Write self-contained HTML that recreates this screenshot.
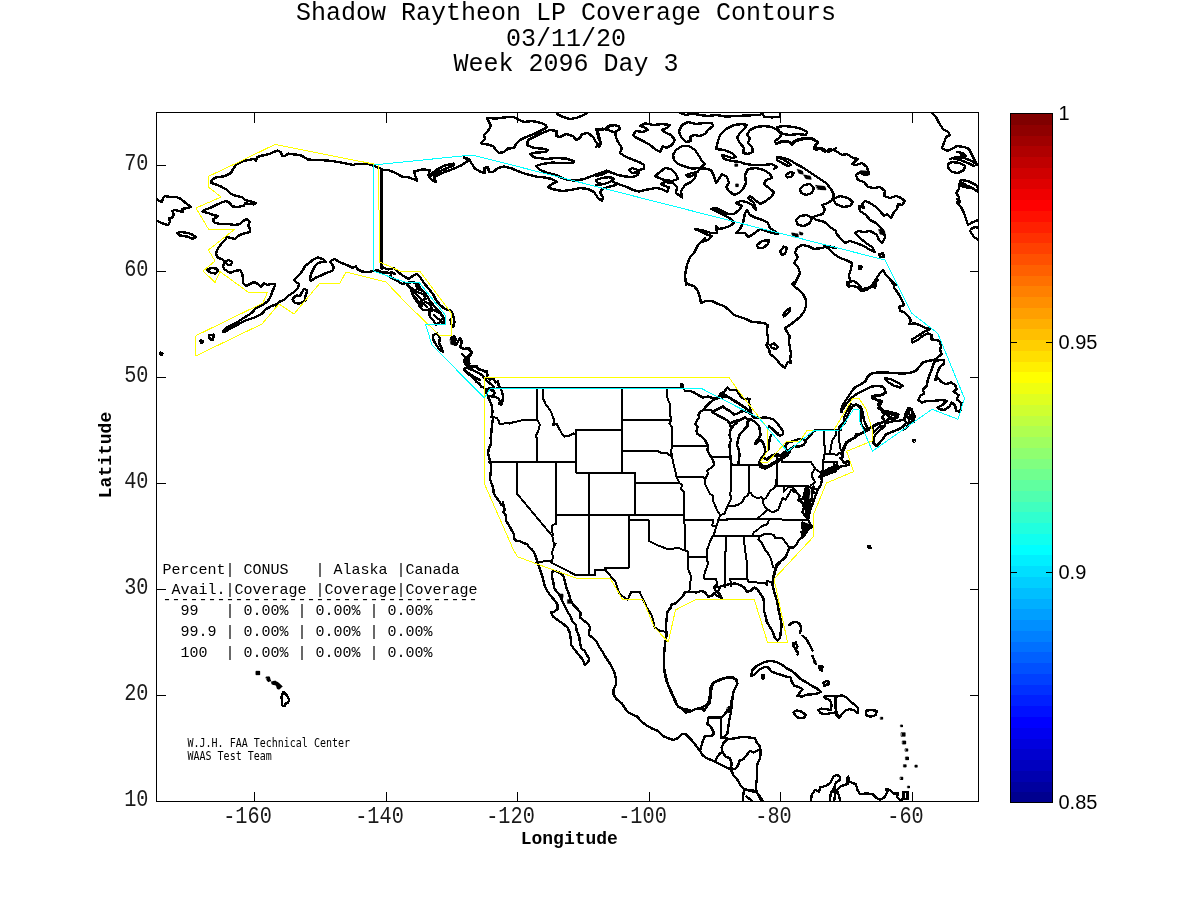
<!DOCTYPE html>
<html><head><meta charset="utf-8"><title>Shadow Raytheon LP Coverage Contours</title>
<style>
html,body{margin:0;padding:0;background:#fff;}
body{width:1200px;height:900px;overflow:hidden;position:relative;}
svg{position:absolute;left:0;top:0;display:block;}
.mono{font-family:"Liberation Mono","DejaVu Sans Mono",monospace;}
.sans{font-family:"Liberation Sans","DejaVu Sans",sans-serif;}
.title{font-size:25px;fill:#000;}
.tick{font-size:21px;fill:#1a1a1a;}
.axl{font-size:18px;font-weight:bold;fill:#000;}
.tbl{font-size:15px;fill:#000;white-space:pre;}
.cb{font-size:20px;fill:#000;}
.small{font-family:"DejaVu Sans Mono","Liberation Mono",monospace;font-size:10px;fill:#000;}
</style></head><body>
<svg width="1200" height="900" viewBox="0 0 1200 900">
<rect x="0" y="0" width="1200" height="900" fill="#fff"/>

<g class="mono title" text-anchor="middle">
<text x="566" y="20">Shadow Raytheon LP Coverage Contours</text>
<text x="566" y="45.5">03/11/20</text>
<text x="566" y="71">Week 2096 Day 3</text>
</g>
<defs><clipPath id="axclip"><rect x="156.5" y="112.5" width="822" height="689"/></clipPath></defs>
<g clip-path="url(#axclip)" fill="none" stroke-linejoin="round" stroke-linecap="round" shape-rendering="crispEdges">
<g stroke="#000" stroke-width="2.4">
<path d="M381.6,169.0 L374.0,166.0 L368.0,164.0 L356.0,164.0 L353.0,165.0 L344.0,163.0 L332.0,161.0 L320.0,160.0 L308.0,159.6 L304.0,157.0 L300.0,155.0 L294.0,154.4 L288.0,153.6 L285.0,156.0 L282.0,155.6 L281.0,152.0 L277.0,150.6 L273.0,152.4 L268.0,154.4 L262.0,155.6 L257.0,157.0 L256.0,161.0 L254.0,159.0 L248.0,160.0 L242.0,161.6 L237.0,164.0 L233.0,169.0 L231.0,173.0 L224.0,176.4 L216.0,177.4 L211.6,180.0 L211.0,183.0 L216.0,184.4 L222.0,187.0 L227.0,190.0 L231.0,194.0 L236.0,196.0 L242.0,197.0 L245.0,200.0 L251.0,201.4 L256.0,203.0 L254.0,204.4 L249.0,204.0 L245.0,203.0 L244.0,205.6 L238.0,207.0 L232.0,206.4 L230.0,203.0 L226.0,201.0 L222.0,202.4 L216.0,205.0 L210.0,208.0 L204.0,210.0 L202.4,211.4 L208.0,213.0 L213.0,215.0 L218.0,216.0 L216.0,218.0 L213.0,219.0 L214.0,222.4 L220.0,224.0 L228.0,224.0 L235.0,225.0 L240.0,224.0 L243.0,221.0 L247.0,219.0 L250.0,222.0 L248.0,225.0 L249.6,228.0 L250.0,232.0 L246.0,233.0 L242.0,234.0 L238.0,236.0 L235.0,239.0 L231.0,238.0 L227.0,237.0 L225.0,240.0 L222.0,243.0 L219.0,247.0 L217.0,250.0 L216.0,254.0 L218.0,258.0 L222.0,259.0 L225.0,262.0 L223.0,266.0 L224.0,269.0 L227.0,271.0 L230.0,273.0 L235.0,271.0 L240.0,270.0 L242.0,273.0 L243.0,278.0 L243.0,283.0 L246.0,286.0 L250.0,284.0 L254.0,282.0 L258.0,284.0 L261.0,287.0 L264.0,283.0 L267.0,285.0 L271.0,284.0 L275.4,284.0 L274.0,288.0 L272.0,292.0 L271.0,296.0 L268.0,301.0 L264.0,304.0 L260.0,306.0 L256.0,308.0"/>
<path d="M276.0,306.0 L279.0,302.0 L284.0,300.0 L288.0,296.0 L294.0,292.0 L298.0,288.0 L299.0,284.0 L296.0,282.0 L294.0,280.0 L297.0,277.0 L300.0,274.0 L303.0,270.0 L305.0,266.0 L309.0,263.0 L314.0,259.0 L318.0,257.6 L323.0,259.0 L326.0,262.0 L322.0,262.0 L318.0,263.0 L315.0,266.0 L313.0,270.0 L311.0,274.0 L310.0,279.0 L311.0,281.0 L315.0,278.0 L320.0,276.0 L326.0,273.0 L332.0,271.0 L334.0,268.0 L332.0,264.0 L330.0,262.0 L332.0,260.0 L335.0,259.0 L339.0,262.0 L344.0,264.0 L349.0,266.0 L353.0,268.0 L356.0,266.0 L357.0,269.0 L362.0,271.6 L368.0,272.0 L374.0,271.0 L378.0,270.0 L382.0,272.4 L388.0,273.0 L392.0,272.4 L395.0,274.0"/>
<path d="M226.0,261.0 L229.0,260.0 L232.0,262.0 L231.0,265.0 L228.0,265.0 L226.0,263.0Z"/>
<path d="M177.0,233.0 L181.0,232.0 L188.0,233.0 L193.0,235.0 L196.0,237.0 L192.0,239.0 L189.0,237.0 L184.0,236.0 L179.0,235.4Z"/>
<path d="M207.0,270.0 L211.0,268.0 L217.0,268.6 L218.0,271.0 L215.0,273.6 L210.0,272.4Z"/>
<path d="M156.0,198.0 L159.0,201.0 L162.0,202.0 L163.0,198.0 L165.0,196.0 L170.0,197.0 L176.0,197.0 L181.0,199.0 L185.0,202.4 L189.0,205.6 L191.0,207.0 L187.0,208.0 L182.0,209.0 L183.0,212.0 L179.0,211.0 L175.0,210.0 L172.0,211.0 L174.0,214.0 L172.0,218.0 L169.0,218.0 L170.0,222.0 L168.0,225.0 L164.0,224.0 L159.0,222.0 L156.0,220.0"/>
<path d="M381.6,169.0 L381.6,269.0"/>
<path d="M256.0,308.0 L252.0,312.6 L247.0,316.0 L242.0,319.0 L236.0,323.0 L231.0,325.6 L227.0,327.6 L224.0,330.0 L223.0,332.0 L226.0,331.4 L230.0,328.6 L235.0,326.2 L240.0,323.4 L246.0,320.4 L252.0,318.4 L257.0,316.4 L262.0,313.6 L266.0,309.0 L271.0,306.4 L278.0,303.6"/>
<path d="M209.0,335.0 L214.0,334.6 L213.0,340.0 L209.6,339.0Z"/>
<path d="M200.4,340.4 L202.8,340.8 L202.4,342.8 L200.8,342.4Z"/>
<path d="M160.0,352.6 L162.4,353.0 L162.0,355.0 L160.4,354.6Z"/>
<path d="M304.0,289.0 L307.0,290.0 L306.4,294.0 L305.0,297.0 L305.6,300.0 L303.0,302.0 L299.0,303.6 L295.0,303.0 L292.6,300.0 L294.0,297.0 L297.0,295.6 L300.0,296.0 L301.6,293.0Z"/>
<path d="M381.6,194.0 L381.6,267.0 L388.0,269.4 L394.0,268.0 L398.0,272.0 L404.0,276.4 L409.0,279.0 L413.0,275.6 L417.0,274.0 L420.0,277.0 L424.0,283.0 L428.4,288.4 L433.0,294.0 L436.0,300.0 L440.0,305.0 L445.0,309.0 L451.0,310.6 L453.4,316.0 L454.4,322.0 L453.4,327.0 L451.4,324.4 L450.4,319.6"/>
<path d="M376.0,270.0 L382.0,273.0 L387.0,272.4 L391.6,273.6 L390.0,277.0 L396.0,280.0 L402.0,284.0 L406.0,283.0 L413.0,282.0 L419.0,285.0 L421.0,290.0 L417.0,289.0 L413.0,292.0 L410.0,288.0 L406.0,283.0"/>
<path d="M412.0,294.0 L417.0,292.0 L423.0,294.0 L426.0,299.0 L422.0,300.0 L419.0,304.0 L415.0,299.0Z"/>
<path d="M419.0,306.0 L425.0,302.0 L430.0,304.0 L432.0,309.0 L427.0,310.0 L423.0,310.0Z"/>
<path d="M429.0,312.0 L434.0,310.0 L440.0,313.0 L444.0,318.0 L445.0,323.0 L440.0,322.0 L436.0,325.0 L433.0,320.0 L430.0,317.0Z"/>
<path d="M416.0,286.0 L419.0,289.0 L423.0,291.0 L427.0,296.0 L430.0,301.0 L434.0,306.0 L438.0,310.0 L442.0,315.0"/>
<path d="M433.0,335.0 L437.0,333.6 L440.0,338.0 L439.0,343.0 L442.0,349.0 L443.0,352.0 L439.0,349.0 L435.0,343.0 L433.0,339.0Z"/>
<path d="M451.0,338.0 L454.0,336.0 L456.0,340.0 L453.0,344.0 L456.0,345.0 L460.0,338.0 L462.0,342.0 L460.0,347.0 L464.0,349.0 L469.0,348.0 L472.0,353.0 L469.0,357.0 L465.0,360.0 L468.0,363.0 L470.0,367.0 L474.0,366.0 L478.0,368.0 L483.0,371.0 L487.0,372.0 L487.0,377.0 L490.0,380.0"/>
<path d="M464.0,370.0 L470.0,374.0 L476.0,378.0 L480.0,380.0"/>
<path d="M381.6,170.0 L388.0,170.0 L396.0,173.0 L402.0,176.6 L409.0,177.4 L417.0,180.6 L415.0,175.0 L414.0,171.4 L422.0,169.4 L430.0,170.0 L428.4,175.0 L431.0,179.4 L436.0,182.0 L434.0,177.0 L442.0,173.0 L452.0,169.4 L462.0,165.0 L468.4,160.6 L464.0,157.4 L469.0,159.0 L472.0,164.0 L475.0,168.6 L481.0,172.0 L485.0,173.0 L484.0,168.0 L488.0,167.0 L489.0,172.0 L493.0,172.0 L498.0,168.0 L504.0,166.6 L512.0,168.6 L520.0,172.0 L528.0,174.6 L536.0,176.6 L544.0,177.4 L552.0,179.0 L557.0,182.0 L552.0,184.0 L548.0,187.0 L552.0,189.0 L562.0,191.0 L571.0,190.0 L580.0,188.0 L588.0,189.0 L594.0,192.0 L598.0,198.0 L602.0,201.0 L603.0,197.0 L600.0,193.0 L602.0,189.0 L608.0,187.0 L616.0,185.0"/>
<path d="M429.0,176.0 L436.0,170.0 L445.0,165.4 L454.0,163.6 L453.6,165.6 L446.0,168.6 L438.0,172.0 L432.0,175.4Z"/>
<path d="M487.0,118.0 L496.0,118.6 L504.0,117.4 L514.0,117.0 L518.0,119.4 L524.0,122.0 L532.0,121.0 L540.0,122.6 L546.0,125.0 L547.0,127.4 L542.0,130.0 L534.0,134.0 L526.0,137.0 L520.0,140.0 L516.0,144.0 L514.0,148.0 L508.0,148.6 L504.0,152.0 L499.0,153.0 L496.0,150.0 L493.0,146.0 L488.0,144.6 L481.0,143.4 L485.0,139.0 L484.0,135.0 L488.0,131.0 L491.0,126.0 L489.0,122.0Z"/>
<path d="M616.0,133.0 L608.0,130.0 L602.0,128.6 L597.0,131.0 L598.0,137.0 L601.0,143.0 L599.0,147.0 L596.0,142.0 L593.0,137.0 L588.0,133.0 L582.0,134.0 L580.0,138.0 L576.0,140.0 L573.0,136.0 L566.0,134.0 L560.0,137.0 L556.0,136.0 L557.0,131.0 L550.0,130.0 L542.0,133.0 L534.0,137.0 L528.0,140.0 L527.0,145.0 L534.0,148.0 L542.0,148.6 L548.0,150.0 L546.0,152.0 L536.0,152.6 L530.0,154.0 L534.0,157.4 L546.0,159.0 L556.0,158.0 L566.0,158.6 L574.0,161.0 L573.0,163.0 L564.0,163.0 L552.0,162.6 L542.0,164.0 L536.0,166.0 L540.0,170.0 L548.0,173.0 L556.0,175.0 L562.0,178.0 L568.0,180.0 L576.0,180.6 L584.0,179.0 L592.0,176.0 L600.0,173.0 L607.0,170.6 L612.0,173.0 L616.0,174.0"/>
<path d="M596.0,180.0 L602.0,178.0 L611.0,177.0 L614.0,179.4 L610.0,182.0 L604.0,184.0 L598.0,183.4Z"/>
<path d="M557.0,114.0 L562.0,116.6 L570.0,119.0 L576.0,118.0 L584.0,115.0 L588.0,112.4"/>
<path d="M616.0,125.0 L610.0,126.0 L606.0,129.0"/>
<path d="M596.0,147.0 L600.0,143.0 L599.0,135.0 L596.0,129.0 L602.0,130.0 L607.0,128.0 L608.0,126.0 L613.0,125.0 L619.0,126.0 L620.0,129.0 L615.0,132.0 L616.0,137.0 L618.0,142.0 L622.0,148.0 L620.0,153.0 L626.0,157.0 L634.0,160.0 L641.0,163.0 L644.0,165.0 L644.0,169.0 L638.0,170.0 L632.0,168.0 L629.0,170.0 L632.0,173.0 L639.0,172.0 L638.0,175.0 L633.0,177.0 L626.0,176.6 L618.0,175.0 L612.0,173.0 L608.0,171.0 L604.0,174.0 L596.0,176.0"/>
<path d="M596.0,180.0 L602.0,178.0 L609.0,177.0 L613.0,179.0 L610.0,182.0 L604.0,184.0 L596.0,185.0"/>
<path d="M633.0,135.0 L636.0,131.0 L643.0,132.0 L648.0,130.0 L644.0,127.0 L640.0,126.0 L645.0,123.4 L654.0,125.0 L662.0,124.0 L670.0,125.0 L667.0,128.0 L662.0,130.0 L666.0,133.0 L671.0,135.0 L675.0,140.0 L672.0,145.0 L666.0,148.0 L663.0,146.0 L660.0,152.0 L655.0,149.0 L650.0,145.0 L645.0,142.0 L639.0,139.0 L635.0,137.0Z"/>
<path d="M679.0,131.0 L682.0,125.0 L688.0,122.0 L696.0,124.0 L704.0,123.0 L712.0,123.0 L713.0,126.0 L708.0,130.0 L705.0,134.0 L700.0,136.0 L694.0,135.0 L690.0,137.0 L691.0,141.0 L686.0,142.0 L682.0,138.0 L680.0,135.0Z"/>
<path d="M673.0,155.0 L676.0,150.0 L682.0,146.0 L689.0,146.0 L695.0,150.0 L699.0,156.0 L702.0,161.0 L705.0,164.0 L700.0,168.0 L692.0,168.6 L685.0,166.6 L678.0,164.0 L674.0,160.0Z"/>
<path d="M655.0,176.0 L660.0,172.0 L665.0,168.0 L671.0,169.0 L676.0,174.0 L678.0,179.0 L672.0,181.0 L664.0,180.0 L659.0,178.0Z"/>
<path d="M613.0,182.0 L618.0,184.0 L626.0,186.6 L633.0,190.0 L639.0,191.4 L648.0,189.4 L656.0,188.0 L662.0,189.0 L667.0,192.0 L669.0,187.4 L665.0,186.0 L661.0,184.0 L665.0,182.0 L673.0,183.0 L677.0,187.0 L676.0,193.0 L682.0,197.4 L681.0,191.0 L685.0,185.0 L691.0,182.0 L695.0,178.0 L696.0,174.0 L689.0,177.0 L686.0,175.4 L692.0,173.0 L698.0,172.0 L699.0,169.0 L705.0,168.6 L711.0,170.0 L714.0,176.0 L716.0,183.0 L719.0,179.0 L722.0,174.0 L727.0,177.0 L729.0,183.0 L726.0,187.0 L729.0,191.0 L734.0,195.0 L739.0,193.0 L743.0,189.0 L746.0,183.0 L745.0,175.0 L748.0,169.0 L756.0,168.0 L764.0,170.0 L770.0,174.0 L772.0,178.0 L766.0,180.0 L764.0,184.0 L770.0,189.0 L774.0,192.0 L772.0,196.0 L766.0,201.0 L760.0,204.0 L754.0,199.0 L750.0,196.0 L748.0,198.0 L754.0,203.0 L756.0,210.0 L752.0,205.0 L747.0,202.0 L741.0,201.0 L736.0,203.0 L742.0,206.0 L739.0,210.0 L734.0,214.0 L728.0,214.0 L722.0,211.0 L716.0,208.0 L711.0,209.0 L716.0,211.0 L724.0,215.0 L731.0,219.0 L734.0,223.0 L730.0,226.0 L724.0,228.0 L719.0,229.0 L716.0,226.0 L717.0,233.0 L711.0,233.0 L705.0,231.0 L700.0,230.0 L695.0,229.0 L702.0,232.0 L708.0,235.0 L712.0,236.0 L708.0,240.0 L701.0,242.0 L705.0,238.0 L698.0,245.0 L694.0,253.0 L690.0,257.0 L687.0,265.0 L685.0,275.0 L686.0,285.0"/>
<path d="M736.0,233.0 L740.0,229.0 L743.0,223.0 L745.0,213.0 L747.0,210.0 L750.0,215.0 L756.0,218.0 L763.0,220.0 L768.0,223.0 L770.0,228.0 L776.0,232.0 L778.0,234.0 L772.0,233.0 L766.0,231.0 L760.0,229.0 L756.0,232.0 L752.0,235.0 L748.0,237.0 L745.0,233.0 L740.0,233.0Z"/>
<path d="M757.0,245.0 L762.0,241.0 L769.0,240.0 L768.0,244.0 L763.0,248.0 L758.0,248.0Z"/>
<path d="M780.0,251.0 L784.0,246.6 L787.0,248.0 L785.0,254.0 L782.0,255.0Z"/>
<path d="M777.0,157.0 L784.0,158.0 L790.0,160.0 L796.0,164.0 L802.0,167.0 L808.0,171.0 L814.0,175.0 L820.0,179.0 L826.0,183.0 L831.0,189.0 L834.0,195.0 L832.0,200.0 L828.0,203.0 L822.0,205.0 L825.0,209.0 L823.0,214.0 L818.0,215.4 L813.0,217.0 L816.0,220.0 L822.0,221.0 L826.0,223.0 L830.0,227.0 L836.0,231.0"/>
<path d="M777.0,157.0 L783.0,159.4 L788.0,162.4 L791.0,165.0 L788.0,166.0 L782.0,163.0 L777.0,160.0Z"/>
<path d="M800.0,189.0 L804.0,185.0 L810.0,184.0 L814.0,188.0 L812.0,193.0 L806.0,195.0 L801.0,193.0Z"/>
<path d="M786.0,175.0 L790.0,172.0 L794.0,173.0 L791.0,177.0 L787.0,177.4Z"/>
<path d="M796.0,220.0 L800.0,216.0 L807.0,215.0 L812.0,218.0 L810.0,223.0 L804.0,226.0 L798.0,225.0Z"/>
<path d="M836.0,248.0 L828.0,246.0 L822.0,248.0 L814.0,249.0 L808.0,246.0 L802.0,245.0 L797.0,248.0 L795.0,253.0 L798.0,257.0 L794.0,263.0 L798.0,267.0 L800.0,273.0 L797.0,279.0 L794.0,285.0"/>
<path d="M716.0,149.0 L718.0,141.0 L720.0,135.0 L726.0,129.0 L734.0,125.0 L742.0,124.0 L747.0,125.0 L744.0,129.0 L740.0,133.0 L737.0,138.0 L740.0,143.0 L744.0,148.0 L743.0,153.0 L748.0,154.0 L753.0,152.0 L752.0,147.0 L748.0,143.0 L750.0,138.0 L747.0,135.0 L750.0,130.0 L756.0,127.0 L764.0,126.0 L772.0,127.0 L777.0,130.0 L782.0,134.0 L779.0,138.0 L775.0,141.0 L776.0,144.0 L782.0,142.0 L788.0,141.0 L791.0,144.0 L796.0,140.0 L804.0,138.0 L812.0,139.0 L818.0,142.0 L814.0,147.0 L816.0,150.0 L822.0,148.0 L828.0,152.0 L833.0,150.0 L836.0,148.0"/>
<path d="M777.0,127.0 L784.0,126.0 L794.0,127.0 L802.0,129.0 L807.0,132.0 L806.0,135.0 L798.0,134.0 L790.0,135.0 L783.0,134.0 L779.0,131.0Z"/>
<path d="M716.0,149.0 L724.0,150.0 L732.0,153.0 L736.0,157.0 L732.0,158.0 L726.0,156.0 L722.0,155.0 L724.0,159.0 L732.0,161.0 L740.0,162.0 L745.0,164.0 L754.0,165.0 L764.0,165.0 L772.0,164.0 L777.0,167.0 L774.0,169.0"/>
<path d="M680.0,113.0 L686.0,115.0 L692.0,113.4 L700.0,115.0 L708.0,116.0 L716.0,115.0 L726.0,116.6 L736.0,116.0 L748.0,115.4 L760.0,115.0 L762.0,113.0"/>
<path d="M762.0,113.0 L764.0,116.6 L772.0,117.4 L780.0,116.6 L780.0,113.0"/>
<path d="M836.0,231.0 L836.0,233.0 L840.0,238.0 L845.0,243.0 L850.0,241.0 L856.0,243.0 L864.0,246.0 L870.0,250.0 L875.0,252.0 L872.0,247.0 L866.0,243.0 L860.0,238.0 L855.0,233.0 L858.0,231.0 L864.0,232.0 L870.0,231.0 L874.0,233.0 L877.0,235.0 L879.0,240.0 L882.0,243.0 L885.0,238.0 L884.0,232.0 L880.0,227.0 L876.0,223.0 L870.0,220.0 L866.0,215.0 L860.0,211.0 L859.0,206.0 L864.0,208.0 L862.0,204.0 L865.0,201.0 L870.0,203.0 L876.0,207.0 L880.0,211.0 L884.0,216.0 L887.0,214.0 L891.0,218.0 L894.0,212.0 L897.0,209.0 L898.0,204.0 L902.0,205.0 L905.0,201.0 L901.0,198.0 L896.0,196.0 L890.0,198.0 L884.0,196.0 L885.0,191.0 L880.0,187.0 L874.0,188.0 L868.0,187.0 L864.0,182.0 L858.0,180.0 L856.0,175.0 L860.0,172.0 L864.0,175.0 L869.0,174.0 L867.0,167.0 L862.0,163.0 L856.0,165.0 L852.0,164.0 L858.0,159.0 L853.0,158.0 L847.0,154.0 L842.0,155.0 L836.0,151.0 L833.0,150.0"/>
<path d="M776.0,144.0 L782.0,141.0 L790.0,142.0 L792.0,145.0 L796.0,141.0 L804.0,139.0 L812.0,138.0 L818.0,142.0 L814.0,149.0 L819.0,148.0 L825.0,152.0 L830.0,149.0 L836.0,151.0"/>
<path d="M833.0,199.0 L840.0,196.0 L848.0,198.0 L853.0,202.0 L850.0,206.0 L843.0,207.0 L836.0,204.0Z"/>
<path d="M836.0,248.0 L824.0,246.0 L829.0,249.0 L834.0,254.0 L840.0,258.0 L846.0,260.0 L852.0,263.0 L851.0,269.0 L849.0,275.0 L850.0,281.0 L848.0,285.0"/>
<path d="M872.0,285.0 L876.0,279.0 L880.0,273.0 L883.0,270.0 L886.0,275.0 L890.0,279.0 L896.0,285.0"/>
<path d="M879.0,254.0 L883.0,253.4 L884.0,256.6 L880.0,257.0Z"/>
<path d="M859.0,266.0 L861.6,266.6 L860.8,269.0 L858.8,268.4Z"/>
<path d="M932.0,113.0 L936.0,117.0 L939.0,123.0 L943.0,129.0 L948.0,132.0 L950.0,135.0 L946.0,137.0 L944.0,143.0 L942.0,148.0 L947.0,151.0 L952.0,149.0 L957.0,146.0 L964.0,147.0 L969.0,149.0 L972.0,155.0 L976.0,163.0 L978.4,165.0"/>
<path d="M950.0,159.0 L956.0,157.0 L964.0,158.0 L972.0,161.0 L976.0,164.0"/>
<path d="M948.0,164.0 L952.0,162.0 L960.0,163.0 L965.0,166.0 L964.0,170.0 L958.0,173.0 L952.0,172.0 L948.4,168.0Z"/>
<path d="M961.0,180.0 L968.0,181.0 L976.0,185.0 L978.4,189.0"/>
<path d="M962.0,184.0 L968.0,186.0 L974.0,189.0 L978.0,192.0"/>
<path d="M960.0,181.0 L959.0,189.0 L956.0,193.0 L959.0,197.0 L957.0,203.0 L961.0,207.0 L964.0,213.0 L966.0,219.0 L968.0,225.0 L973.0,222.0 L978.4,220.0"/>
<path d="M971.0,229.0 L975.0,227.0 L978.4,228.0"/>
<path d="M970.0,231.0 L974.0,237.0 L978.4,240.0"/>
<path d="M685.0,280.0 L687.0,284.0 L694.0,286.0 L698.0,291.0 L700.0,298.0 L701.0,303.0 L706.0,301.0 L712.0,301.0 L718.0,304.0 L724.0,306.0 L729.0,310.0 L734.0,315.0 L740.0,317.0 L746.0,319.0 L752.0,322.0 L758.0,322.4 L764.0,323.0 L767.6,325.0 L767.0,332.0 L768.0,338.0 L767.6,344.0 L766.0,345.0 L769.0,349.0 L770.0,354.0 L774.0,357.0 L777.0,360.0 L780.0,364.0 L785.0,368.0 L786.0,365.0 L788.0,362.0 L791.0,363.0 L790.0,359.0 L791.0,354.0 L790.0,348.0 L789.0,342.0 L789.6,336.0 L787.0,332.0 L785.0,328.0 L790.0,325.0 L795.0,321.0 L800.0,317.0 L804.0,312.0 L806.0,306.0 L806.0,300.0 L803.0,294.0 L799.0,290.0 L795.0,287.0 L792.0,284.0 L796.0,281.0 L797.0,280.0"/>
<path d="M783.0,315.0 L786.0,311.0 L790.0,308.0 L790.0,311.0 L787.0,314.0 L784.0,316.4Z"/>
<path d="M770.0,345.0 L774.0,343.6 L778.0,347.0 L776.0,349.0 L772.0,348.0Z"/>
<path d="M847.0,285.0 L848.0,282.0 L854.0,281.0 L858.0,284.0 L862.0,289.0 L868.0,288.0 L876.0,284.0"/>
<path d="M690.0,391.0 L694.0,392.5 L698.0,395.0 L703.0,397.5 L708.0,396.5 L714.0,398.5 L719.0,398.0 L714.0,399.5 L710.0,402.5 L706.0,406.5 L703.0,410.0 L707.0,410.2 L711.0,410.0 L713.0,412.8 L715.0,410.5 L719.0,408.5 L723.0,406.5 L726.0,409.0 L730.0,411.0 L734.0,414.5 L737.0,414.0 L741.0,411.5 L744.5,411.2 L748.0,412.2 L751.0,414.2 L754.0,417.5 L760.0,417.8 L766.0,417.5 L770.0,418.2 L774.0,419.8 L777.0,423.0 L780.0,427.0 L783.0,431.0 L783.2,434.0 L780.0,435.8 L777.0,434.0 L774.0,431.0 L771.0,428.0 L769.0,426.5"/>
<path d="M719.0,398.0 L720.0,394.0 L724.0,392.0 L727.5,387.5 L730.0,389.8 L737.0,390.0 L739.0,394.0 L742.0,398.0 L746.0,399.5 L747.5,398.5 L749.5,399.0 L748.5,402.5 L750.0,406.0 L750.5,411.0 L752.0,415.0"/>
<path d="M724.5,394.5 L732.0,399.0 L740.0,404.0 L747.0,409.0"/>
<path d="M727.0,396.5 L735.0,401.5 L743.0,406.5 L750.0,411.5"/>
<path d="M720.0,394.0 L722.0,395.0 L724.5,394.5 L725.0,396.5 L722.0,397.5"/>
<path d="M703.0,410.0 L700.0,412.0 L698.5,415.0 L699.0,418.0 L697.0,420.0 L695.5,424.0 L697.5,427.0 L696.5,431.0 L697.5,434.0 L701.0,436.0 L705.0,440.0 L707.0,444.0 L708.0,446.0 L707.5,450.0 L709.0,454.0 L712.0,458.0 L713.5,462.0 L714.0,465.0"/>
<path d="M713.0,412.5 L717.0,415.0 L723.0,418.0 L727.5,420.5 L730.0,424.0 L731.0,428.0 L730.0,432.0 L729.5,435.0 L731.0,440.0 L729.5,445.0 L730.0,451.0 L730.5,457.0 L731.0,463.0 L732.0,465.0"/>
<path d="M730.0,424.0 L734.0,421.0 L738.0,420.5 L737.0,423.0 L734.0,425.0 L732.0,428.0"/>
<path d="M734.0,422.0 L738.0,421.0 L742.0,419.0 L745.0,417.5 L747.5,419.0 L750.5,419.0 L747.5,422.0 L748.0,426.0 L744.5,429.0 L742.0,432.0 L739.5,435.0 L738.0,440.0 L737.0,445.0 L739.0,450.0 L739.5,455.0 L739.0,460.0 L738.0,465.0"/>
<path d="M744.5,429.0 L746.5,427.0 L747.5,425.0"/>
<path d="M751.0,419.5 L755.0,422.0 L759.0,426.0 L760.0,431.0 L760.5,435.0 L759.0,438.0 L756.0,441.0 L755.0,444.0 L757.0,443.0 L760.0,440.0 L762.0,441.0 L764.0,445.0 L765.0,449.0 L765.5,452.0 L764.0,455.0 L762.0,458.0 L760.0,461.0 L760.5,463.5"/>
<path d="M770.0,427.0 L774.0,430.2 L778.0,433.5"/>
<path d="M770.5,427.8 L774.5,431.0 L778.5,434.2"/>
<path d="M771.0,435.0 L769.5,440.0 L769.0,445.0 L768.5,449.5"/>
<path d="M782.0,458.0 L786.0,454.0 L787.5,451.5 L785.0,447.0 L787.0,443.0 L793.0,441.2 L799.0,439.0 L803.5,438.8 L805.8,441.5 L803.5,445.0 L798.5,446.8 L794.0,446.2 L790.5,449.0 L787.5,451.5"/>
<path d="M805.8,440.5 L810.0,435.5 L814.0,431.2 L816.5,430.0 L840.5,430.0"/>
<path d="M868.5,430.0 L865.0,431.8 L860.0,434.0 L856.2,434.0 L855.0,437.5 L850.0,440.5 L846.5,443.0 L844.5,448.0 L842.5,453.0"/>
<path d="M868.5,430.0 L866.0,425.0 L864.0,420.0 L863.0,415.0 L862.0,409.0 L860.0,406.0 L856.0,404.5 L853.0,406.0 L850.0,410.0 L848.0,415.0 L846.0,420.0 L844.0,424.0 L840.0,427.0 L839.0,430.0"/>
<path d="M842.0,452.7 L841.3,454.3 L843.3,455.0 L842.7,457.3 L840.3,458.0 L842.0,460.0 L844.0,462.7 L846.0,464.0 L846.7,460.7 L848.7,460.7 L848.7,464.7 L846.0,465.7 L842.7,465.7 L840.7,466.7 L838.0,468.7 L836.3,469.3 L836.0,465.7 L834.7,465.3 L833.3,466.7 L830.0,468.0 L826.7,470.0 L823.3,472.7 L821.3,474.3 L820.0,476.3 L822.0,480.0 L820.8,485.3 L818.7,488.0 L816.7,492.0 L815.9,493.7 L813.7,492.7 L812.7,489.3 L813.3,486.7"/>
<path d="M819.3,477.3 L823.3,476.0 L828.0,474.0 L832.0,472.7 L835.3,471.3 L836.3,469.7 L833.3,470.3 L829.3,472.0 L825.3,473.7 L822.0,475.3Z"/>
<path d="M846.8,282.5 L848.5,286.7 L852.7,285.8 L857.7,287.5 L861.0,290.8 L866.8,290.0 L871.0,286.7 L875.2,287.5 L876.0,282.5 L877.7,280.0"/>
<path d="M890.2,280.0 L893.5,284.2 L894.3,288.3 L897.7,292.5 L900.2,296.7 L902.7,301.7 L904.3,305.0 L899.3,306.7 L900.2,310.8 L904.3,312.5 L907.7,315.8 L911.0,320.0 L909.3,324.2 L914.3,323.3 L919.3,325.0 L924.3,327.5 L930.2,329.2 L924.3,331.7 L919.3,335.0 L915.2,337.5 L911.8,339.2 L912.7,342.5 L917.7,340.0 L922.7,335.8 L927.7,333.3 L931.8,335.0 L931.0,339.2 L935.2,340.0 L939.3,340.8 L941.0,345.0 L940.2,350.0 L941.8,354.2 L938.5,356.7 L934.3,360.0 L928.5,360.8 L922.7,362.5 L919.3,366.7 L916.0,370.8 L909.3,373.0 L902.7,373.7 L894.3,373.0 L886.0,372.5 L877.7,372.5 L871.0,373.7 L867.7,376.7 L865.2,381.7 L861.0,384.2 L856.0,386.7 L852.7,390.0 L849.3,395.0 L846.0,400.0 L842.7,405.0 L841.0,410.0 L841.8,411.7"/>
<path d="M841.0,411.7 L846.0,404.2 L851.8,397.5 L857.7,393.3 L864.3,390.0 L871.0,386.7 L877.7,385.8 L882.7,386.7 L885.2,390.0 L884.3,393.3 L879.3,395.8 L873.5,396.7 L871.8,398.3 L876.0,399.2 L879.3,402.5 L877.7,405.0 L881.0,408.3 L884.3,411.7 L887.7,413.3 L892.7,412.5 L896.8,414.2 L897.7,417.5 L894.3,419.2 L889.3,418.3 L886.0,421.7 L884.3,426.7 L881.0,429.2"/>
<path d="M885.2,378.3 L891.0,379.2 L897.7,382.5 L902.7,385.8 L900.2,387.5 L894.3,385.8 L888.5,382.5 L885.7,380.0Z"/>
<path d="M934.3,361.7 L939.3,360.0 L943.5,360.0 L944.3,363.3 L940.2,366.7 L937.7,371.7 L936.0,377.5 L935.2,380.0 L938.5,378.3 L941.0,381.7 L946.0,384.2 L951.0,382.5 L955.2,385.0 L956.8,389.2 L953.5,391.7 L958.5,395.0 L956.8,399.2 L961.8,403.3 L960.2,411.7 L956.0,410.8 L955.2,405.8 L951.8,402.5 L949.3,406.7 L944.3,410.0 L939.3,409.2 L937.7,407.5 L942.7,405.0 L946.8,400.8 L941.0,400.0 L934.3,400.8 L927.7,400.8 L921.8,402.5 L918.5,400.0 L920.2,395.8 L924.3,393.3 L922.7,390.0 L926.8,385.8 L927.7,380.0 L930.2,373.3 L932.7,366.7Z"/>
<path d="M904.3,418.3 L907.7,413.3 L910.2,408.3 L912.7,411.7 L911.8,418.3 L914.3,421.7 L909.3,423.3 L906.0,428.3 L902.7,430.0"/>
<path d="M884.8,390.0 L886.0,392.5 L882.2,395.0 L877.2,395.0 L872.2,396.2 L873.5,398.8 L878.5,400.0 L882.2,401.2 L879.8,405.0 L878.5,408.1 L881.6,410.6 L884.1,414.4 L882.2,417.5 L884.8,420.6 L882.2,423.1 L878.5,423.8 L874.8,425.6 L871.6,426.9"/>
<path d="M884.8,411.2 L889.8,411.9 L894.8,413.1 L898.5,414.4 L897.2,416.9 L892.9,418.1 L888.5,416.2 L885.4,413.8Z"/>
<path d="M889.1,413.8 L893.5,415.0 L896.6,415.6"/>
<path d="M871.6,426.9 L877.2,423.8 L883.5,421.9 L888.5,422.5 L893.5,421.2 L899.8,420.6 L904.8,419.4 L906.0,423.1 L903.5,426.2 L898.5,429.4 L892.2,431.9 L886.0,434.4 L883.5,438.1 L879.8,442.5 L876.6,446.2 L873.5,443.1 L873.5,438.1 L876.0,433.8 L879.8,430.0 L883.5,426.9 L881.0,425.6 L877.2,428.8 L873.5,432.5 L872.9,427.5"/>
<path d="M871.6,426.9 L867.2,430.0 L862.2,433.1 L857.2,435.6 L854.8,437.5 L849.8,440.0 L846.0,442.5 L844.1,446.2 L842.9,450.0"/>
<path d="M904.1,418.8 L906.0,412.5 L908.5,408.1 L911.6,408.8 L912.9,412.5 L914.8,416.2 L913.5,420.0 L909.8,422.5 L906.6,423.1"/>
<path d="M907.9,411.9 L909.8,415.0 L911.0,419.4"/>
<path d="M906.0,415.0 L908.5,418.1 L909.1,421.2"/>
<path d="M912.9,439.8 L914.8,440.0 L914.5,441.5 L913.0,441.2Z"/>
<path d="M813.2,486.6 L815.0,488.8 L817.5,488.8 L816.2,493.8 L814.4,498.8 L812.5,503.8 L810.6,508.8 L809.4,513.8 L808.5,518.1 L808.1,512.5 L809.4,507.5 L810.0,502.5 L811.9,497.5 L812.5,492.5 L811.9,488.8 L810.0,486.9"/>
<path d="M807.5,486.2 L805.0,488.8 L804.4,495.0 L802.5,499.0 L798.8,499.4 L802.5,502.5 L803.8,507.5 L802.5,512.5 L805.0,515.6 L807.5,518.8 L810.0,523.8 L812.2,526.9 L808.5,528.8 L806.2,532.5 L803.8,536.2 L801.2,538.1 L798.8,540.0 L796.2,545.0 L793.8,547.5 L790.0,547.2 L788.1,550.6 L786.2,556.2 L782.5,560.0 L778.8,562.5 L776.2,565.0 L775.0,570.0 L773.8,575.0 L772.8,580.0"/>
<path d="M806.9,488.8 L806.2,495.0 L805.0,500.0 L805.6,505.0 L806.2,510.0 L806.9,515.0 L808.1,518.1"/>
<path d="M808.5,490.0 L808.1,495.0 L807.5,500.0 L807.5,505.0 L807.8,511.2"/>
<path d="M802.5,522.5 L806.2,525.0 L809.4,526.2 L806.2,526.9 L803.1,526.2 L802.5,522.5 L801.9,526.2 L803.1,530.0 L805.0,531.2 L806.2,532.5"/>
<path d="M804.4,523.8 L807.5,525.6"/>
<path d="M801.2,532.5 L803.8,533.1 L805.0,534.4 L802.5,535.0"/>
<path d="M868.5,546.2 L870.2,546.5 L870.5,548.2 L868.8,548.2Z"/>
<path d="M666.7,635.0 L665.8,626.7 L666.7,618.3 L667.5,611.7 L670.8,607.5 L671.7,604.2 L675.8,603.3 L680.0,599.2 L683.3,595.8 L684.2,592.5 L690.0,591.7 L696.7,592.5 L701.7,590.8 L705.0,592.5 L708.3,596.7 L711.7,595.8 L714.2,593.3 L718.3,590.8 L720.0,586.7 L725.0,585.0 L730.0,584.2 L735.0,583.3 L740.0,585.0 L744.2,587.5 L746.7,591.7 L750.8,590.8 L754.2,587.5 L757.5,589.2 L760.0,593.3 L763.3,598.3 L764.2,605.0 L764.2,611.7 L765.8,616.7 L766.7,621.7 L770.8,628.3 L773.3,633.3 L775.0,638.3 L777.5,640.8 L780.0,638.3 L780.8,631.7 L781.7,625.0 L780.0,616.7 L778.3,608.3 L776.7,600.0 L774.2,591.7 L772.5,585.0 L773.3,578.3 L775.0,571.7 L776.7,566.7 L779.2,563.3 L781.7,560.0"/>
<path d="M714.2,593.3 L716.7,595.8 L721.7,598.0 L719.7,594.2 L715.8,590.8 L714.2,587.5 L716.7,585.0 L718.3,587.5"/>
<path d="M666.7,635.0 L665.0,643.3 L664.2,653.3 L663.7,663.3 L664.7,673.3 L666.7,681.7 L670.0,690.0 L673.3,696.7 L675.8,703.3 L678.3,706.7 L683.3,709.2 L690.0,710.0"/>
<path d="M695.0,709.2 L701.7,707.5 L706.7,705.0 L709.2,700.0 L710.0,693.3 L710.8,686.7 L713.3,682.5 L718.3,680.0 L725.0,678.0 L731.7,677.5 L735.8,679.2 L737.5,683.3 L735.0,688.3 L733.3,693.3 L731.7,700.0 L731.3,706.7 L730.8,710.0"/>
<path d="M728.8,706.7 L730.8,706.7 L730.8,708.7 L728.8,708.7Z"/>
<path d="M750.8,675.8 L752.5,670.0 L756.7,665.8 L763.3,662.5 L770.0,660.8 L776.7,662.0 L782.5,665.0 L786.7,668.3 L791.7,670.8 L796.7,675.0 L800.8,679.2 L806.7,682.5 L811.7,685.8 L816.7,688.3 L820.8,691.7 L818.3,693.3 L813.3,694.2 L806.7,694.7 L801.7,696.7 L797.5,695.8 L800.0,692.5 L802.5,689.2 L798.3,686.7 L794.2,685.8 L791.7,681.7 L790.8,677.5 L786.7,676.7 L781.7,675.0 L775.8,673.3 L771.7,671.7 L768.3,667.5 L765.0,666.7 L760.0,669.2 L756.7,672.5 L754.2,675.0Z"/>
<path d="M761.7,675.3 L764.0,675.3 L764.0,678.3 L761.7,678.3Z"/>
<path d="M789.2,625.0 L792.5,622.5 L796.7,621.7 L800.0,624.2 L801.3,628.3 L800.0,632.5"/>
<path d="M793.3,643.3 L795.8,642.5 L797.5,646.7 L795.8,649.2 L793.7,646.7Z"/>
<path d="M795.8,650.8 L798.3,652.5 L797.5,654.7"/>
<path d="M802.5,635.8 L805.8,638.3 L808.3,642.5 L810.8,646.7 L812.5,650.8"/>
<path d="M812.5,655.8 L814.2,660.0 L815.8,664.2"/>
<path d="M819.2,665.8 L822.5,666.7 L821.7,670.8 L819.7,669.2Z"/>
<path d="M823.3,682.5 L827.5,680.8 L829.2,683.3 L825.0,685.8Z"/>
<path d="M824.2,696.7 L830.0,695.8 L836.7,696.7 L841.7,695.3 L846.7,697.5 L850.8,701.7 L855.0,705.0 L858.3,708.3 L857.5,713.3 L854.2,710.0 L849.2,709.2 L845.0,710.8 L841.7,714.2 L839.2,718.3 L836.7,715.8 L835.0,712.5 L830.0,713.3 L825.0,714.2 L820.8,713.3 L818.3,710.0 L821.7,708.7 L826.7,709.2 L830.8,710.0 L831.7,705.0 L830.0,700.0 L825.8,698.7Z"/>
<path d="M835.8,697.0 L835.3,703.3 L835.8,710.0 L837.5,715.0"/>
<path d="M793.3,712.5 L796.7,710.3 L801.7,711.7 L805.8,715.0 L804.2,717.5 L799.2,718.3 L795.8,715.8Z"/>
<path d="M865.8,710.8 L870.8,710.0 L876.7,710.8 L875.8,715.0 L870.8,716.7 L866.7,715.8Z"/>
<path d="M880.7,717.3 L882.7,717.3 L882.7,719.3 L880.7,719.3Z" fill="#000" stroke-width="0.8"/>
<path d="M900.8,725.0 L902.5,725.0 L902.5,726.7 L900.8,726.7Z" fill="#000" stroke-width="0.8"/>
<path d="M901.5,732.7 L905.2,732.7 L905.2,736.3 L901.5,736.3Z" fill="#000" stroke-width="0.8"/>
<path d="M902.7,741.0 L905.7,741.0 L905.7,744.0 L902.7,744.0Z" fill="#000" stroke-width="0.8"/>
<path d="M905.5,748.8 L907.8,748.8 L907.8,751.2 L905.5,751.2Z" fill="#000" stroke-width="0.8"/>
<path d="M905.8,757.0 L908.5,757.0 L908.5,759.7 L905.8,759.7Z" fill="#000" stroke-width="0.8"/>
<path d="M903.8,764.7 L906.2,764.7 L906.2,767.0 L903.8,767.0Z" fill="#000" stroke-width="0.8"/>
<path d="M915.3,765.2 L917.3,765.2 L917.3,767.2 L915.3,767.2Z" fill="#000" stroke-width="0.8"/>
<path d="M900.5,777.2 L902.8,777.2 L902.8,779.5 L900.5,779.5Z" fill="#000" stroke-width="0.8"/>
<path d="M907.8,786.2 L909.5,786.2 L909.5,787.8 L907.8,787.8Z" fill="#000" stroke-width="0.8"/>
<path d="M814.0,661.0 L816.0,661.0 L816.0,663.0 L814.0,663.0Z" fill="#000" stroke-width="0.8"/>
<path d="M819.3,666.0 L822.3,666.0 L822.3,669.0 L819.3,669.0Z" fill="#000" stroke-width="0.8"/>
<path d="M823.3,682.5 L826.7,680.8 L829.2,682.5 L827.5,685.0 L824.2,685.8Z"/>
<path d="M903.3,791.7 L907.5,791.7 L907.5,799.2 L903.3,799.2Z"/>
<path d="M810.8,800.8 L811.7,795.0 L815.0,790.0 L819.2,791.7 L820.0,787.5 L825.8,785.8 L830.0,783.3 L833.3,776.7 L836.7,774.7 L840.0,776.7 L840.0,780.0 L835.8,782.5 L834.2,788.3 L835.8,793.3 L837.5,789.2 L841.7,785.8 L847.5,784.2 L846.7,778.3 L848.3,776.7 L849.2,781.7 L855.8,784.2 L857.5,790.0 L860.0,794.2 L866.7,793.3 L872.5,794.2 L875.8,797.5 L880.0,799.7 L884.2,797.5 L887.5,791.7 L885.8,789.2 L890.0,790.0 L893.3,793.3 L898.3,793.3 L896.7,796.7 L900.0,800.0 L903.3,799.2"/>
<path d="M833.3,789.2 L830.8,793.3 L829.7,800.8"/>
<path d="M834.2,789.2 L835.0,795.0 L834.2,800.8"/>
<path d="M837.5,791.7 L839.2,796.7 L840.0,800.8"/>
<path d="M607.5,660.0 L610.8,665.0 L614.2,671.7 L615.8,678.3 L615.8,685.0 L613.3,690.0 L613.3,694.2 L616.7,699.2 L621.7,703.3 L625.0,708.3 L628.3,712.5 L633.3,715.0 L637.5,716.7 L640.8,720.8 L645.8,725.0 L651.7,728.3 L657.5,730.8 L662.5,735.8 L668.3,738.3 L673.3,740.0 L677.5,738.3 L681.7,734.2 L685.8,734.2 L690.0,738.3 L694.2,743.3 L697.5,747.5 L700.0,750.8 L702.5,755.0 L706.7,758.3 L711.7,760.0 L716.7,762.5 L721.7,765.0 L726.7,767.5 L730.8,769.2 L733.3,775.0 L737.5,780.0 L740.8,785.8 L744.2,789.2 L749.2,790.0 L754.2,790.8 L757.5,793.3 L760.0,798.3 L762.5,801.3"/>
<path d="M664.2,660.0 L664.2,668.3 L665.8,676.7 L668.3,685.0 L671.7,692.5 L675.0,700.0 L677.5,705.8 L681.7,708.3 L685.8,712.5 L690.0,711.7 L695.0,709.2 L701.7,708.3 L704.2,710.8 L706.7,706.7 L710.0,702.5 L710.8,693.3 L711.7,686.7 L714.2,682.5 L720.0,680.0 L726.7,677.5 L733.3,677.5 L736.7,680.0 L736.7,685.0 L733.3,691.7 L732.5,698.3 L731.7,705.0 L730.8,713.3 L729.2,720.0 L728.3,726.7 L727.5,733.3 L724.2,737.5 L729.2,739.2 L735.0,738.3 L743.3,736.7 L750.0,737.5 L755.0,738.3 L756.7,742.5 L760.0,746.7 L760.8,751.7 L760.0,758.3 L757.5,763.3 L756.7,771.7 L756.7,780.0 L755.8,786.7 L756.7,792.5 L760.0,796.7 L763.3,801.3"/>
<path d="M727.5,710.0 L724.2,715.0 L721.2,717.5 L708.3,717.5 L707.5,724.2 L710.8,726.7 L714.2,733.3 L711.7,735.8 L705.0,735.8 L702.5,741.7 L700.8,748.3 L700.0,750.8"/>
<path d="M721.2,717.5 L720.8,737.5 L724.2,737.5 L726.7,740.0 L723.3,743.3 L721.7,747.5 L722.5,752.5 L720.0,753.3 L717.5,756.7 L715.8,760.0"/>
<path d="M722.5,752.5 L725.8,756.7 L730.0,758.3 L731.7,763.3 L730.8,768.3 L735.0,769.2 L738.3,765.0 L739.2,760.8 L743.3,759.2 L746.7,755.0 L750.0,750.8 L753.3,752.5 L758.3,750.0 L760.8,750.8"/>
<path d="M744.2,789.2 L750.0,790.8 L756.7,792.5"/>
<path d="M744.2,789.2 L743.3,795.0 L743.0,801.3"/>
<path d="M746.7,796.7 L750.0,799.2 L751.7,801.3"/>
<path d="M727.5,707.5 L730.8,708.3 L730.8,712.5 L727.5,712.5Z" fill="#000" stroke-width="0.8"/>
<path d="M537.5,562.5 L540.0,569.2 L542.5,576.7 L544.2,584.2 L546.7,590.0 L550.0,595.0 L554.2,600.0 L557.5,604.2 L557.5,609.2 L554.2,611.7 L550.8,612.5 L553.3,616.7 L557.5,620.0 L562.5,623.3 L567.5,627.5 L570.0,633.3 L570.8,640.0 L570.8,644.2 L574.2,649.2 L578.3,654.2 L582.5,659.2 L585.0,665.0 L588.3,661.7 L589.2,658.3 L586.7,655.0 L584.2,650.0 L581.7,649.2 L580.0,643.3 L579.2,636.7 L576.7,630.8 L575.8,625.0 L572.5,621.7 L570.8,616.7 L567.5,611.7 L565.0,606.7 L562.5,601.7 L560.8,596.7 L557.5,592.5 L554.2,588.3 L553.3,581.7 L551.7,575.8 L552.5,571.7 L555.0,570.8 L559.2,572.5 L563.3,575.8 L565.0,581.7 L566.7,588.3 L569.2,595.0 L570.8,600.8 L573.3,605.0 L578.3,610.0 L580.8,613.3 L580.0,617.5 L584.2,620.8 L588.3,624.2 L590.0,627.5 L589.2,631.7 L589.2,635.0 L593.3,638.3 L596.7,641.7 L599.2,646.7 L602.5,651.7 L605.8,657.5 L607.5,660.0"/>
<path d="M560.0,594.2 L563.0,594.2 L563.0,597.5 L560.0,597.5Z" fill="#000" stroke-width="0.8"/>
<path d="M567.8,599.7 L571.2,599.7 L571.2,603.3 L567.8,603.3Z" fill="#000" stroke-width="0.8"/>
<path d="M469.4,350.0 L471.9,351.9 L469.4,354.4 L466.9,356.9 L464.4,359.4 L466.2,361.2 L468.8,359.4 L469.4,363.8 L468.8,366.9 L472.5,367.5 L476.9,366.2 L478.8,369.4 L483.1,370.6 L486.9,371.2 L487.5,375.0 L486.9,377.5 L490.0,378.8 L493.8,379.4 L495.6,382.5 L498.1,381.2 L498.8,386.2 L500.0,387.5 L501.9,391.2 L503.1,396.2 L502.5,401.2 L501.2,405.0 L498.8,403.8 L500.0,401.2 L498.1,398.1 L495.0,396.9 L490.0,396.2 L493.1,395.6 L495.0,393.1 L493.1,390.6 L489.4,390.0 L485.6,391.5 L488.1,396.9 L490.0,401.2 L491.9,406.2 L492.5,411.2 L491.9,416.2 L493.1,418.1 L491.9,425.0 L491.5,431.2 L490.6,437.5 L491.0,443.8 L488.8,448.8 L488.1,453.8 L489.4,458.8 L490.0,460.6"/>
<path d="M463.8,368.8 L467.5,368.1 L472.5,370.0 L477.5,372.5 L481.9,375.0 L485.0,378.8 L488.1,381.9 L491.2,384.4 L493.8,386.9 L492.5,388.8 L489.4,388.1 L486.2,390.0 L483.8,387.5 L481.2,386.9 L479.4,383.8 L476.2,381.9 L474.4,378.8 L471.2,376.2 L468.1,373.8 L465.0,371.2Z"/>
<path d="M490.0,460.6 L490.6,461.9 L491.0,467.5 L490.6,473.8 L490.0,478.8 L491.2,482.5 L493.1,487.5 L493.8,493.8 L496.9,498.1 L500.0,502.5 L501.2,505.0 L503.1,502.5 L503.8,507.5 L505.0,509.4 L503.1,511.9 L505.6,515.0 L506.2,521.2 L508.8,525.0 L511.2,529.4 L513.8,533.8 L514.4,538.8 L516.2,540.6 L520.0,541.2 L523.8,543.1 L527.5,544.4 L528.8,546.9 L531.9,549.4 L534.4,553.1 L536.2,558.1 L537.5,562.5"/>
<path d="M256.3,671.3 L259.7,671.3 L259.7,674.7 L256.3,674.7Z" fill="#000" stroke-width="0.8"/>
<path d="M266.3,677.0 L269.3,676.7 L270.7,681.0 L268.0,681.7 L266.7,679.7Z" fill="#000" stroke-width="0.8"/>
<path d="M271.7,681.7 L275.3,681.1 L278.7,683.0 L282.3,686.3 L279.3,689.3 L277.3,688.7 L276.0,685.0 L272.3,684.3Z" fill="#000" stroke-width="0.8"/>
<path d="M283.0,691.7 L286.7,695.0 L289.3,699.7 L288.3,702.3 L285.7,703.5 L284.7,706.3 L283.0,705.8 L281.7,704.3 L282.1,701.0 L282.1,698.3 L280.7,697.8 L282.1,695.8Z"/>
<path d="M758.7,462.7 L762.0,457.3 L766.7,459.3 L772.0,455.3 L776.7,454.0 L781.3,455.3 L784.7,452.0 L787.3,450.7 L790.0,452.0 L787.3,455.3 L783.3,458.0 L779.3,460.7 L776.7,462.7 L772.7,464.3 L769.3,466.7 L764.7,468.7 L760.0,466.7Z"/>
<path d="M766.7,460.0 L772.0,456.3 L776.7,455.0 L781.3,456.3"/>
<path d="M776.9,462.7 L776.9,454.7"/>
<path d="M735.2,164.0 L737.6,164.0 L737.6,166.4 L735.2,166.4Z" fill="#000" stroke-width="0.8"/>
<path d="M736.0,184.0 L738.4,184.0 L738.4,186.6 L736.0,186.6Z" fill="#000" stroke-width="0.8"/>
<path d="M797.6,169.4 L802.4,171.0 L803.2,174.2 L799.2,173.4Z" fill="#000" stroke-width="0.8"/>
<path d="M804.0,175.0 L810.4,176.2 L811.2,179.4 L806.0,178.6Z" fill="#000" stroke-width="0.8"/>
<path d="M816.0,185.4 L825.0,186.6 L826.0,189.8 L818.0,189.4Z" fill="#000" stroke-width="0.8"/>
<path d="M861.0,170.6 L868.4,171.4 L869.2,175.0 L862.4,174.6Z" fill="#000" stroke-width="0.8"/>
<path d="M879.0,229.4 L884.4,230.6 L885.2,235.0 L880.4,234.2Z" fill="#000" stroke-width="0.8"/>
<path d="M792.0,233.0 L798.0,234.0 L798.4,237.0 L793.2,236.6Z" fill="#000" stroke-width="0.8"/>
<path d="M799.6,232.0 L803.0,233.0 L802.4,235.0 L800.0,234.6Z" fill="#000" stroke-width="0.8"/>
<path d="M957.0,152.0 L963.0,153.0 L966.0,156.0 L961.0,155.0"/>
<path d="M952.0,158.0 L960.0,160.0 L968.0,163.0 L974.0,166.0"/>
<path d="M961.0,182.0 L966.0,185.0 L971.0,188.0 L964.0,187.0 L960.0,185.0"/>
<path d="M957.0,199.0 L960.0,201.0 L959.0,204.0"/>
<path d="M408.0,286.0 L413.0,289.0 L416.0,294.0 L420.0,298.0 L423.0,303.0 L427.0,307.0"/>
<path d="M411.0,291.0 L414.0,296.0 L418.0,301.0 L422.0,306.0"/>
<path d="M434.0,315.0 L437.0,318.0 L440.0,320.0 L443.0,319.0"/>
<path d="M450.4,339.0 L454.4,338.0 L455.2,345.0 L451.2,344.4Z" fill="#000" stroke-width="0.8"/>
<path d="M462.0,354.0 L466.0,358.0 L464.0,362.0 L467.0,366.0"/>
<path d="M805.0,488.8 L808.1,487.5 L810.0,491.2 L809.0,498.8 L808.1,507.5 L808.5,517.5 L806.2,516.2 L805.0,507.5 L804.4,498.8Z" fill="#000" stroke-width="0.8"/>
<path d="M802.5,522.5 L808.1,523.8 L811.9,526.9 L808.1,528.8 L805.0,532.5 L801.9,533.8 L802.5,528.8Z" fill="#000" stroke-width="0.8"/>
<path d="M820.0,476.3 L823.3,473.3 L828.0,470.7 L833.3,468.0 L836.0,466.7 L836.3,469.7 L833.3,470.7 L829.3,472.3 L825.3,474.0 L822.0,475.7Z" fill="#000" stroke-width="0.8"/>
<path d="M760.0,464.0 L764.7,466.7 L769.3,465.3 L772.7,463.0 L776.7,461.3 L779.3,459.3 L783.3,456.7 L787.3,453.7"/>
</g>
<g stroke="#000" stroke-width="2">
<path d="M496.7,387.8 L680.6,387.8 L680.6,383.8 L682.6,384.3 L683.6,388.9 L685.2,390.8 L688.8,391.5"/>
<path d="M536.6,387.8 L536.6,415.1 L537.4,417.8 L537.4,419.6 L539.8,424.9 L538.2,431.3 L535.5,436.6 L536.8,438.2 L536.6,442.9 L536.6,462.0"/>
<path d="M490.8,417.0 L494.7,417.5 L496.7,417.7 L498.7,420.7 L499.0,423.3 L502.0,424.4 L505.3,422.8 L509.2,423.6 L513.2,422.3 L517.1,421.5 L521.7,420.3 L523.7,419.6 L537.4,419.6"/>
<path d="M488.8,462.0 L576.0,462.0"/>
<path d="M517.1,462.0 L517.1,493.8 L552.4,536.2"/>
<path d="M556.3,462.0 L556.3,524.0 L553.9,524.5 L551.7,525.6 L552.1,530.9 L552.8,534.7 L552.4,536.2 L552.8,538.3 L553.8,543.6 L555.7,543.6 L553.8,546.8 L551.8,553.2 L553.3,557.4 L551.8,560.4"/>
<path d="M551.8,560.4 L551.3,562.7 L575.9,575.1 L594.7,575.1 L594.7,570.3 L605.7,570.3"/>
<path d="M556.3,515.0 L684.1,515.0"/>
<path d="M589.2,472.6 L589.2,575.1"/>
<path d="M576.0,430.2 L576.0,472.6 L635.2,472.6 L635.2,515.0"/>
<path d="M576.0,430.2 L622.1,430.2"/>
<path d="M622.1,387.8 L622.1,472.6"/>
<path d="M543.1,387.8 L543.1,398.4 L545.4,403.7 L550.7,411.1 L553.9,419.6 L553.3,424.9 L556.6,423.8 L559.9,430.2 L563.2,435.5 L564.5,436.6 L569.7,435.5 L573.7,433.4 L576.0,435.5"/>
<path d="M622.1,420.2 L671.3,420.2"/>
<path d="M622.1,451.4 L658.6,451.4 L661.9,453.5 L666.5,453.0 L670.4,455.6 L672.1,456.7"/>
<path d="M635.2,483.2 L679.6,483.2"/>
<path d="M629.0,515.0 L629.0,520.3 L648.7,520.3 L648.7,540.9 L654.0,543.6 L658.6,545.7 L661.9,546.8 L667.1,548.9 L671.7,548.9 L678.3,547.9 L685.0,550.6"/>
<path d="M628.6,520.3 L628.6,568.0 L605.1,568.0 L605.7,570.3"/>
<path d="M605.7,570.3 L615.8,582.3 L619.1,593.4 L627.6,600.0 L630.9,592.4 L639.5,591.6 L646.7,607.2 L652.0,615.7 L654.6,627.4 L660.5,631.1 L667.5,632.0"/>
<path d="M679.6,483.2 L682.3,485.3 L680.9,488.5 L684.2,492.7 L684.1,520.3"/>
<path d="M684.1,520.3 L685.4,532.0 L685.0,550.6 L687.9,551.6 L687.9,568.1 L691.1,576.5 L690.2,583.9 L689.2,592.4"/>
<path d="M684.1,520.3 L713.5,520.3 L712.1,525.6 L716.5,525.6"/>
<path d="M687.9,557.4 L706.8,557.4"/>
<path d="M713.8,465.0 L713.2,466.2 L707.3,470.5 L707.9,473.7 L705.3,479.0 L704.6,483.2 L709.9,493.8 L713.2,495.9 L713.2,501.2 L717.8,511.8 L720.2,515.0 L718.4,520.3 L716.5,525.6 L713.8,535.1 L712.5,536.2 L710.6,540.4 L707.3,548.9 L706.8,557.4 L707.9,563.8 L704.6,573.3 L704.0,578.6 L716.3,578.6 L717.1,587.1"/>
<path d="M672.1,446.1 L706.5,446.1"/>
<path d="M676.5,477.1 L703.3,477.1 L705.3,479.0"/>
<path d="M671.3,420.2 L669.4,423.8 L672.1,427.0 L672.1,446.1 L671.1,451.4 L672.1,456.7 L673.0,462.0 L674.4,467.3 L675.7,472.6 L676.5,477.1 L679.6,483.2"/>
<path d="M671.3,420.2 L669.8,413.2 L669.8,403.7 L667.5,398.4 L666.9,387.8"/>
<path d="M710.3,456.7 L729.0,456.7"/>
<path d="M730.8,464.5 L730.8,490.1 L730.3,493.8 L731.0,499.1 L727.7,505.5 L727.3,506.5"/>
<path d="M732.9,464.5 L748.6,464.5 L748.6,492.7"/>
<path d="M748.6,465.2 L757.6,465.2"/>
<path d="M776.9,458.8 L776.9,486.2"/>
<path d="M776.9,476.4 L776.4,480.0 L775.7,484.3 L774.6,487.4 L771.1,490.1 L768.8,492.7 L767.8,494.9 L765.8,498.0 L763.2,499.9 L761.5,497.0 L758.6,498.0 L756.0,497.5 L752.7,495.9 L750.7,492.7 L748.6,492.7 L747.4,495.9 L744.8,497.0 L742.5,501.5 L738.8,504.4 L735.6,505.5 L731.0,505.5 L727.3,506.5 L724.4,513.9 L720.2,515.0"/>
<path d="M717.8,520.3 L727.3,520.3 L727.3,518.7 L756.1,519.2 L807.5,519.8"/>
<path d="M756.1,519.2 L759.9,516.6 L767.1,509.7 L767.3,509.3 L765.2,507.6 L763.2,503.3 L763.2,499.9"/>
<path d="M767.3,509.3 L772.4,512.4 L778.3,509.7 L782.6,498.0 L785.6,499.6 L787.7,496.3 L791.2,489.6 L794.6,492.4 L795.3,490.4 L792.1,486.6 L788.2,487.4 L783.7,491.7 L783.7,486.2"/>
<path d="M776.9,486.2 L808.0,486.2 L808.0,499.5 L812.9,499.5"/>
<path d="M781.9,459.1 L781.9,462.0 L810.9,462.0 L815.2,468.8 L812.3,472.8 L811.9,476.8 L815.0,481.6 L812.5,484.3 L810.6,485.3"/>
<path d="M815.2,468.8 L820.4,472.6"/>
<path d="M795.3,490.4 L796.8,492.7 L799.8,495.9 L798.1,500.2 L800.0,501.2 L804.6,504.9"/>
<path d="M769.2,519.3 L767.1,524.5 L763.2,525.6 L759.9,527.7 L757.3,530.2 L754.0,532.0 L751.9,536.3"/>
<path d="M712.5,536.2 L759.9,536.2 L764.5,534.1 L773.5,534.6 L773.5,535.7 L774.2,535.1 L775.2,538.1 L782.5,538.3 L789.8,548.3"/>
<path d="M759.9,536.2 L758.3,539.4 L761.2,542.0 L765.8,551.0 L767.8,553.2 L770.4,557.4 L773.1,566.9 L774.4,567.7"/>
<path d="M743.5,536.4 L746.2,558.8 L747.4,564.8 L747.1,573.3 L747.4,578.6 L748.3,581.8 L765.8,583.2 L766.8,585.4 L767.1,581.2 L770.8,581.8"/>
<path d="M731.0,586.0 L730.3,578.6 L747.4,578.6"/>
<path d="M726.3,536.2 L724.6,569.1 L725.0,587.1"/>
<path d="M815.2,430.2 L836.2,430.2 L835.6,435.5 L832.6,439.7 L831.0,446.1 L830.0,454.3"/>
<path d="M824.1,430.2 L824.1,440.8 L823.5,445.0 L824.7,445.6 L824.6,454.1 L823.1,461.5 L823.2,470.5 L821.8,471.5 L822.1,472.6"/>
<path d="M824.6,454.1 L837.5,454.6 L839.5,452.8 L840.7,452.8"/>
<path d="M823.1,461.7 L834.3,461.7 L837.0,461.7 L837.0,463.1 L838.2,467.3"/>
<path d="M834.3,461.7 L834.3,469.4"/>
<path d="M841.5,450.7 L839.7,447.2 L839.3,437.6 L839.0,427.0 L843.5,422.8 L844.1,417.5 L846.1,412.2 L851.2,404.1 L852.7,404.8 L857.3,405.2 L860.6,408.3 L860.6,422.8 L862.9,427.0 L865.2,429.1"/>
<path d="M536.1,562.4 L551.8,560.4"/>
</g>
<g stroke="#ffff00" stroke-width="1" shape-rendering="crispEdges">
<path d="M275.0,144.4 L378.5,165.0 L379.6,262.0 L400.0,271.0 L420.0,271.6 L452.0,314.0 L451.6,335.6 L439.6,335.6 L406.0,303.0 L386.0,282.0 L346.0,272.0 L340.0,283.0 L320.0,283.0 L294.0,314.0 L279.0,304.0 L262.0,324.0 L195.6,356.0 L196.0,335.6 L263.0,303.0 L267.5,292.0 L248.0,292.0 L220.0,271.6 L215.0,282.4 L203.0,271.0 L215.0,261.0 L208.4,250.0 L235.0,229.0 L208.4,229.0 L196.0,208.0 L221.0,197.0 L208.4,187.0 L208.4,176.4 L241.0,161.0Z"/>
<path d="M484.6,377.4 L729.0,377.4 L737.0,389.0 L767.5,428.0 L767.5,451.0 L760.5,462.0 L767.0,463.0 L786.5,441.5 L799.5,441.5 L807.3,430.2 L834.0,430.0 L852.5,398.7 L859.2,398.7 L866.0,409.0 L872.3,430.0 L872.9,440.6 L846.6,451.3 L853.6,471.6 L826.3,483.1 L813.8,513.8 L813.8,536.3 L774.0,579.0 L787.5,642.2 L767.5,642.2 L754.2,599.5 L695.8,599.5 L675.5,610.0 L668.3,642.0 L654.5,627.5 L642.8,599.3 L622.5,599.2 L610.0,578.0 L575.8,578.0 L537.5,564.2 L517.5,556.7 L513.5,550.0 L484.4,483.8Z"/>
</g>
<g stroke="#00ffff" stroke-width="1" shape-rendering="crispEdges">
<path d="M373.6,165.0 L468.0,155.4 L474.0,155.4 L885.0,260.0 L911.8,313.3 L937.7,333.3 L964.5,398.5 L958.0,419.3 L932.0,409.3 L872.4,451.2 L859.0,419.5 L859.0,409.5 L853.5,409.5 L840.0,430.0 L814.0,430.5 L787.5,451.5 L759.0,418.0 L701.5,388.5 L490.6,388.0 L484.4,398.0 L432.0,345.0 L425.6,324.4 L445.6,324.4 L446.0,316.0 L419.0,282.4 L406.0,282.4 L376.0,272.0 L373.6,271.0Z"/>
</g>
</g>
<g stroke="#000" stroke-width="1" fill="none" shape-rendering="crispEdges">
<rect x="156.5" y="112.5" width="822" height="689"/>
<line x1="254.5" y1="801.5" x2="254.5" y2="791.5"/>
<line x1="254.5" y1="112.5" x2="254.5" y2="122.5"/>
<line x1="386.5" y1="801.5" x2="386.5" y2="791.5"/>
<line x1="386.5" y1="112.5" x2="386.5" y2="122.5"/>
<line x1="517.5" y1="801.5" x2="517.5" y2="791.5"/>
<line x1="517.5" y1="112.5" x2="517.5" y2="122.5"/>
<line x1="649.5" y1="801.5" x2="649.5" y2="791.5"/>
<line x1="649.5" y1="112.5" x2="649.5" y2="122.5"/>
<line x1="780.5" y1="801.5" x2="780.5" y2="791.5"/>
<line x1="780.5" y1="112.5" x2="780.5" y2="122.5"/>
<line x1="912.5" y1="801.5" x2="912.5" y2="791.5"/>
<line x1="912.5" y1="112.5" x2="912.5" y2="122.5"/>
<line x1="156.5" y1="695.5" x2="165.5" y2="695.5"/>
<line x1="978.5" y1="695.5" x2="969.5" y2="695.5"/>
<line x1="156.5" y1="589.5" x2="165.5" y2="589.5"/>
<line x1="978.5" y1="589.5" x2="969.5" y2="589.5"/>
<line x1="156.5" y1="483.5" x2="165.5" y2="483.5"/>
<line x1="978.5" y1="483.5" x2="969.5" y2="483.5"/>
<line x1="156.5" y1="377.5" x2="165.5" y2="377.5"/>
<line x1="978.5" y1="377.5" x2="969.5" y2="377.5"/>
<line x1="156.5" y1="271.5" x2="165.5" y2="271.5"/>
<line x1="978.5" y1="271.5" x2="969.5" y2="271.5"/>
<line x1="156.5" y1="165.5" x2="165.5" y2="165.5"/>
<line x1="978.5" y1="165.5" x2="969.5" y2="165.5"/>
</g>
<g class="mono tick" text-anchor="middle">
<text transform="translate(247.5,822.5) scale(0.965,1.1)">-160</text>
<text transform="translate(379.5,822.5) scale(0.965,1.1)">-140</text>
<text transform="translate(510.5,822.5) scale(0.965,1.1)">-120</text>
<text transform="translate(642.5,822.5) scale(0.965,1.1)">-100</text>
<text transform="translate(773.5,822.5) scale(0.965,1.1)">-80</text>
<text transform="translate(905.5,822.5) scale(0.965,1.1)">-60</text>
</g>
<g class="mono tick" text-anchor="end">
<text transform="translate(148.5,806) scale(0.965,1.1)">10</text>
<text transform="translate(148.5,700) scale(0.965,1.1)">20</text>
<text transform="translate(148.5,594) scale(0.965,1.1)">30</text>
<text transform="translate(148.5,488) scale(0.965,1.1)">40</text>
<text transform="translate(148.5,382) scale(0.965,1.1)">50</text>
<text transform="translate(148.5,276) scale(0.965,1.1)">60</text>
<text transform="translate(148.5,170) scale(0.965,1.1)">70</text>
</g>
<text class="mono axl" text-anchor="middle" x="569.3" y="844">Longitude</text>
<text class="mono axl" text-anchor="middle" transform="translate(111,455) rotate(-90)">Latitude</text>
<g class="mono tbl" xml:space="preserve">
<text x="162.5" y="573.5" xml:space="preserve">Percent| CONUS   | Alaska |Canada</text>
<text x="162.5" y="594" xml:space="preserve"> Avail.|Coverage |Coverage|Coverage</text>
<text x="162.5" y="603.5" xml:space="preserve">-----------------------------------</text>
<text x="162.5" y="614.5" xml:space="preserve">  99   | 0.00% | 0.00% | 0.00%</text>
<text x="162.5" y="636" xml:space="preserve">  99.9 | 0.00% | 0.00% | 0.00%</text>
<text x="162.5" y="657" xml:space="preserve">  100  | 0.00% | 0.00% | 0.00%</text>
</g>
<g class="small" transform="translate(187.5,0)">
<text x="0" y="0" transform="translate(0,747) scale(1,1.14)">W.J.H. FAA Technical Center</text>
<text x="0" y="0" transform="translate(0,759.5) scale(1,1.14)">WAAS Test Team</text>
</g>
<g shape-rendering="crispEdges">
<rect x="1010.5" y="791.73" width="42" height="11.37" fill="#00008f"/>
<rect x="1010.5" y="780.97" width="42" height="11.37" fill="#00009f"/>
<rect x="1010.5" y="770.20" width="42" height="11.37" fill="#0000af"/>
<rect x="1010.5" y="759.44" width="42" height="11.37" fill="#0000bf"/>
<rect x="1010.5" y="748.67" width="42" height="11.37" fill="#0000cf"/>
<rect x="1010.5" y="737.91" width="42" height="11.37" fill="#0000df"/>
<rect x="1010.5" y="727.14" width="42" height="11.37" fill="#0000ef"/>
<rect x="1010.5" y="716.38" width="42" height="11.37" fill="#0000ff"/>
<rect x="1010.5" y="705.61" width="42" height="11.37" fill="#0010ff"/>
<rect x="1010.5" y="694.84" width="42" height="11.37" fill="#0020ff"/>
<rect x="1010.5" y="684.08" width="42" height="11.37" fill="#0030ff"/>
<rect x="1010.5" y="673.31" width="42" height="11.37" fill="#0040ff"/>
<rect x="1010.5" y="662.55" width="42" height="11.37" fill="#0050ff"/>
<rect x="1010.5" y="651.78" width="42" height="11.37" fill="#0060ff"/>
<rect x="1010.5" y="641.02" width="42" height="11.37" fill="#0070ff"/>
<rect x="1010.5" y="630.25" width="42" height="11.37" fill="#0080ff"/>
<rect x="1010.5" y="619.48" width="42" height="11.37" fill="#008fff"/>
<rect x="1010.5" y="608.72" width="42" height="11.37" fill="#009fff"/>
<rect x="1010.5" y="597.95" width="42" height="11.37" fill="#00afff"/>
<rect x="1010.5" y="587.19" width="42" height="11.37" fill="#00bfff"/>
<rect x="1010.5" y="576.42" width="42" height="11.37" fill="#00cfff"/>
<rect x="1010.5" y="565.66" width="42" height="11.37" fill="#00dfff"/>
<rect x="1010.5" y="554.89" width="42" height="11.37" fill="#00efff"/>
<rect x="1010.5" y="544.12" width="42" height="11.37" fill="#00ffff"/>
<rect x="1010.5" y="533.36" width="42" height="11.37" fill="#10ffef"/>
<rect x="1010.5" y="522.59" width="42" height="11.37" fill="#20ffdf"/>
<rect x="1010.5" y="511.83" width="42" height="11.37" fill="#30ffcf"/>
<rect x="1010.5" y="501.06" width="42" height="11.37" fill="#40ffbf"/>
<rect x="1010.5" y="490.30" width="42" height="11.37" fill="#50ffaf"/>
<rect x="1010.5" y="479.53" width="42" height="11.37" fill="#60ff9f"/>
<rect x="1010.5" y="468.77" width="42" height="11.37" fill="#70ff8f"/>
<rect x="1010.5" y="458.00" width="42" height="11.37" fill="#80ff80"/>
<rect x="1010.5" y="447.23" width="42" height="11.37" fill="#8fff70"/>
<rect x="1010.5" y="436.47" width="42" height="11.37" fill="#9fff60"/>
<rect x="1010.5" y="425.70" width="42" height="11.37" fill="#afff50"/>
<rect x="1010.5" y="414.94" width="42" height="11.37" fill="#bfff40"/>
<rect x="1010.5" y="404.17" width="42" height="11.37" fill="#cfff30"/>
<rect x="1010.5" y="393.41" width="42" height="11.37" fill="#dfff20"/>
<rect x="1010.5" y="382.64" width="42" height="11.37" fill="#efff10"/>
<rect x="1010.5" y="371.88" width="42" height="11.37" fill="#ffff00"/>
<rect x="1010.5" y="361.11" width="42" height="11.37" fill="#ffef00"/>
<rect x="1010.5" y="350.34" width="42" height="11.37" fill="#ffdf00"/>
<rect x="1010.5" y="339.58" width="42" height="11.37" fill="#ffcf00"/>
<rect x="1010.5" y="328.81" width="42" height="11.37" fill="#ffbf00"/>
<rect x="1010.5" y="318.05" width="42" height="11.37" fill="#ffaf00"/>
<rect x="1010.5" y="307.28" width="42" height="11.37" fill="#ff9f00"/>
<rect x="1010.5" y="296.52" width="42" height="11.37" fill="#ff8f00"/>
<rect x="1010.5" y="285.75" width="42" height="11.37" fill="#ff8000"/>
<rect x="1010.5" y="274.98" width="42" height="11.37" fill="#ff7000"/>
<rect x="1010.5" y="264.22" width="42" height="11.37" fill="#ff6000"/>
<rect x="1010.5" y="253.45" width="42" height="11.37" fill="#ff5000"/>
<rect x="1010.5" y="242.69" width="42" height="11.37" fill="#ff4000"/>
<rect x="1010.5" y="231.92" width="42" height="11.37" fill="#ff3000"/>
<rect x="1010.5" y="221.16" width="42" height="11.37" fill="#ff2000"/>
<rect x="1010.5" y="210.39" width="42" height="11.37" fill="#ff1000"/>
<rect x="1010.5" y="199.62" width="42" height="11.37" fill="#ff0000"/>
<rect x="1010.5" y="188.86" width="42" height="11.37" fill="#ef0000"/>
<rect x="1010.5" y="178.09" width="42" height="11.37" fill="#df0000"/>
<rect x="1010.5" y="167.33" width="42" height="11.37" fill="#cf0000"/>
<rect x="1010.5" y="156.56" width="42" height="11.37" fill="#bf0000"/>
<rect x="1010.5" y="145.80" width="42" height="11.37" fill="#af0000"/>
<rect x="1010.5" y="135.03" width="42" height="11.37" fill="#9f0000"/>
<rect x="1010.5" y="124.27" width="42" height="11.37" fill="#8f0000"/>
<rect x="1010.5" y="113.50" width="42" height="11.37" fill="#800000"/>
<rect x="1010.5" y="113.5" width="42" height="689" fill="none" stroke="#000" stroke-width="1"/>
<line x1="1010.5" y1="342.5" x2="1016.5" y2="342.5" stroke="#000"/>
<line x1="1052.5" y1="342.5" x2="1045.5" y2="342.5" stroke="#000"/>
<line x1="1010.5" y1="572.5" x2="1016.5" y2="572.5" stroke="#000"/>
<line x1="1052.5" y1="572.5" x2="1045.5" y2="572.5" stroke="#000"/>
</g>
<g class="sans cb">
<text x="1058.5" y="119.5">1</text>
<text x="1058.5" y="349.167">0.95</text>
<text x="1058.5" y="578.833">0.9</text>
<text x="1058.5" y="808.5">0.85</text>
</g>
</svg></body></html>
